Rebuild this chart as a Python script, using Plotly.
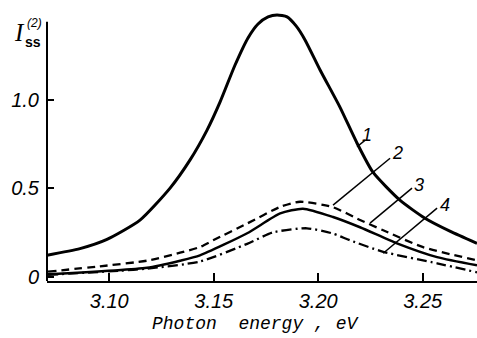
import plotly.graph_objects as go

# ---- data ----
e1 = [3.0702, 3.0860, 3.0989, 3.1147, 3.1291, 3.1386, 3.1468, 3.1530, 3.1602, 3.1664,
      3.1712, 3.1760, 3.1803, 3.1851, 3.1894, 3.1937, 3.2009, 3.2104, 3.2186, 3.2262,
      3.2391, 3.2511, 3.2630, 3.2760]
v1 = [0.121, 0.158, 0.210, 0.319, 0.500, 0.658, 0.828, 0.986, 1.196, 1.349,
      1.428, 1.468, 1.479, 1.468, 1.417, 1.338, 1.168, 0.958, 0.754, 0.590,
      0.432, 0.330, 0.257, 0.188]

e2 = [3.0707, 3.0956, 3.1181, 3.1339, 3.1434, 3.1497, 3.1660, 3.1818, 3.1913, 3.2071,
      3.2200, 3.2311, 3.2502, 3.2760]
v2 = [0.028, 0.058, 0.090, 0.135, 0.167, 0.205, 0.300, 0.394, 0.423, 0.392,
      0.320, 0.262, 0.166, 0.092]

e3 = [3.0707, 3.1181, 3.1339, 3.1434, 3.1660, 3.1818, 3.1927, 3.2071, 3.2200, 3.2377,
      3.2569, 3.2760]
v3 = [0.013, 0.050, 0.090, 0.120, 0.245, 0.357, 0.384, 0.337, 0.279, 0.188,
      0.110, 0.064]

e4 = [3.0707, 3.1051, 3.1181, 3.1434, 3.1660, 3.1784, 3.1946, 3.2071, 3.2152, 3.2311,
      3.2569, 3.2760]
v4 = [0.010, 0.033, 0.045, 0.085, 0.185, 0.250, 0.273, 0.243, 0.205, 0.140,
      0.075, 0.024]

x_ticks = [3.10, 3.15, 3.20, 3.25]
x_tick_labels = ["3.10", "3.15", "3.20", "3.25"]
y_ticks = [0, 0.5, 1.0]
y_tick_labels = ["0", "0.5", "1.0"]

curve_labels = ["1", "2", "3", "4"]
# leader lines (label callouts): [x0, y0, x1, y1]
leaders = [
    [3.2186, 0.734, 3.2225, 0.771],
    [3.2071, 0.404, 3.2344, 0.669],
    [3.2248, 0.302, 3.2449, 0.500],
    [3.2311, 0.132, 3.2569, 0.387],
]
label_pos = [(3.2235, 0.800), (3.2378, 0.700), (3.2483, 0.516), (3.2608, 0.403)]

X_RANGE = [3.0702, 3.276]
Y_RANGE = [-0.025, 1.507]

fig = go.Figure()
styles = [
    dict(width=3, dash="solid"),
    dict(width=2.3, dash="8px,5px"),
    dict(width=2.5, dash="solid"),
    dict(width=2.3, dash="10px,4px,2px,4px"),
]
for (e, v), st in zip([(e1, v1), (e2, v2), (e3, v3), (e4, v4)], styles):
    fig.add_trace(go.Scatter(x=e, y=v, mode="lines",
                             line=dict(color="black", shape="spline", smoothing=0.6, **st),
                             hoverinfo="skip"))

tickfont = dict(family="Liberation Sans", size=20, color="black", style="italic")

fig.update_layout(
    width=477, height=338,
    margin=dict(l=47, r=0, t=10, b=57, autoexpand=False),
    plot_bgcolor="white", paper_bgcolor="white",
    showlegend=False,
    xaxis=dict(range=X_RANGE, tickvals=x_ticks, ticktext=x_tick_labels,
               ticks="inside", ticklen=8, tickwidth=1.5, tickcolor="black",
               showline=True, linecolor="black", linewidth=2,
               showgrid=False, zeroline=False, tickfont=tickfont,
               ticklabelstandoff=1, automargin=False),
    yaxis=dict(range=Y_RANGE, tickvals=y_ticks, ticktext=y_tick_labels,
               ticks="inside", ticklen=7, tickwidth=1.5, tickcolor="black",
               showline=False, showgrid=False, zeroline=False, tickfont=tickfont,
               ticklabelstandoff=7, automargin=False),
)

# y-axis line (ends below top like the reference)
fig.add_shape(type="line", xref="paper", yref="y", x0=0, x1=0, y0=Y_RANGE[0], y1=1.44,
              line=dict(color="black", width=2))

for (x0, y0, x1, y1) in leaders:
    fig.add_shape(type="line", xref="x", yref="y", x0=x0, y0=y0, x1=x1, y1=y1,
                  line=dict(color="black", width=1.5))

for lab, (lx, ly) in zip(curve_labels, label_pos):
    fig.add_annotation(x=lx, y=ly, xref="x", yref="y", text=lab, showarrow=False,
                       xanchor="center", yanchor="middle",
                       font=dict(family="Liberation Sans", size=18, color="black", style="italic"))


def pann(px, py, text, font):
    fig.add_annotation(x=(px - 47) / 430, y=(281 - py) / 271, xref="paper", yref="paper",
                       text=text, showarrow=False, xanchor="center", yanchor="middle",
                       font=font)


# axis titles
pann(255, 324, "Photon\u00a0 energy , eV",
     dict(family="Liberation Mono", size=18, color="black", style="italic"))
pann(19, 33, "I", dict(family="Liberation Serif", size=25, color="black", style="italic"))
pann(34, 23, "(2)", dict(family="Liberation Sans", size=12, color="black", style="italic"))
pann(33, 42, "ss", dict(family="Liberation Sans", size=14, color="black", weight="bold"))

fig.write_html("out.html", config={"displayModeBar": False},
               post_script="document.body.style.margin='0';document.body.style.overflow='hidden';")
